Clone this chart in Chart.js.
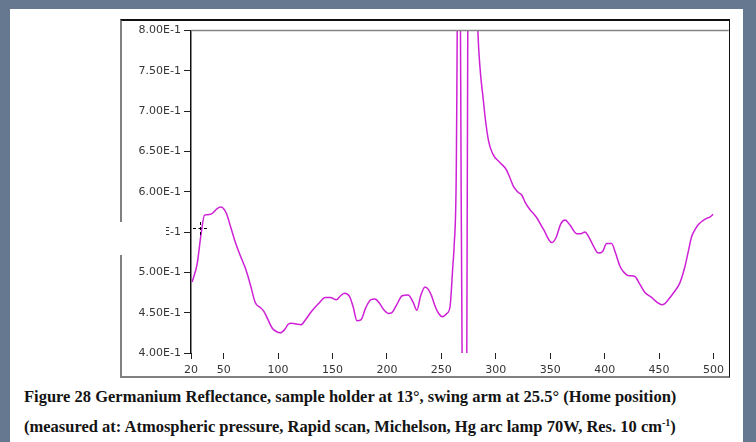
<!DOCTYPE html>
<html>
<head>
<meta charset="utf-8">
<script src="https://cdn.jsdelivr.net/npm/chart.js@4.4.1/dist/chart.umd.min.js"></script>
<style>
  body { margin: 0; width: 756px; height: 442px; background: #667790; position: relative; overflow: hidden; }
  #panel { position: absolute; left: 10px; top: 9px; width: 733px; height: 433px; background: #fff; }
  #frame { position: absolute; left: 120px; top: 19px; width: 607px; height: 355px;
           border-top: 2px solid #111; border-left: 2px solid #808080; border-bottom: 2px solid #808080; border-right: 1.5px solid #111; }
  #frame canvas { position: absolute; left: 0; top: 0; }
  .cap { position: absolute; left: 24px; font-family: "Liberation Serif", serif; font-weight: bold; font-size: 16.5px; color: #141414; line-height: 30px; white-space: nowrap; }
  .cap sup { font-size: 10px; line-height: 0; }
  #cover { position: absolute; left: 118px; top: 222px; width: 48px; height: 33px; background: #fff; }
  .dh { position: absolute; height: 0; border-top: 1px dashed #000; }
  .dv { position: absolute; width: 0; border-left: 1.5px dashed #000; }
</style>
</head>
<body>
<div id="panel"></div>
<div id="frame"><canvas id="grafica" width="607" height="355"></canvas></div>
<div id="cover"></div>
<div class="dh" style="left:193px; top:228px; width:14px;"></div>
<div class="dv" style="left:200px; top:222px; height:13px;"></div>
<div class="cap" style="top:382px;">Figure 28 Germanium Reflectance, sample holder at 13°, swing arm at 25.5° (Home position)</div>
<div class="cap" style="top:412px;">(measured at: Atmospheric pressure, Rapid scan, Michelson, Hg arc lamp 70W, Res. 10 cm<sup>-1</sup>)</div>
<script>
// numero de onda (cm-1) y reflectancia
const numeroOnda = [
  21, 25.7, 29, 32.4, 37.9, 41, 44, 47.4, 50, 52.6, 56.5, 60.8, 65.5, 70, 74.5, 79.2, 83, 86.8, 90.5, 94.5,
  98, 102, 106, 109.5, 112.5, 117, 121, 125, 131, 137, 143.4, 148, 153.5, 157.5, 161, 165.7, 169, 172.5, 176, 180.5,
  185, 189, 193, 197.5, 201.5, 204.5, 209, 214, 219.5, 224, 227.5, 231, 235, 238, 241, 244, 247.5, 251, 255, 258,
  260.5, 261.7, 263.6, 266.3, 268.2, 272, 273.8, 275.5, 283.5, 288.6, 293.2, 297.2, 304, 309.4, 312.5, 316.1, 320, 323.8, 327, 330.8,
  337, 344, 351.4, 355.3, 359.6, 363.6, 368, 374.3, 378, 381.9, 385, 390, 394.1, 398.2, 401.8, 406.4, 410, 414, 417.1, 421.7,
  427.8, 432, 437, 443.1, 448, 452.3, 455, 458.4, 464, 469.1, 473.7, 477, 479.8, 483, 485.9, 490, 493.6, 497, 499.6
];
const reflectancia = [
  0.488, 0.511, 0.545, 0.571, 0.572, 0.575, 0.579, 0.581, 0.579, 0.573, 0.556, 0.537, 0.520, 0.505, 0.485, 0.462, 0.457, 0.452, 0.442, 0.431,
  0.427, 0.425, 0.429, 0.436, 0.437, 0.436, 0.435, 0.441, 0.452, 0.461, 0.469, 0.469, 0.466, 0.471, 0.474, 0.470, 0.457, 0.440, 0.441, 0.456,
  0.466, 0.467, 0.462, 0.453, 0.449, 0.450, 0.460, 0.471, 0.472, 0.463, 0.453, 0.471, 0.482, 0.479, 0.471, 0.459, 0.449, 0.445, 0.449, 0.458,
  0.507, 0.532, 0.614, 1.10, 0.60, -0.10, 0.60, 1.20, 0.80, 0.713, 0.664, 0.647, 0.636, 0.628, 0.619, 0.607, 0.600, 0.596, 0.587, 0.579,
  0.569, 0.553, 0.537, 0.543, 0.560, 0.565, 0.559, 0.548, 0.548, 0.550, 0.545, 0.532, 0.524, 0.526, 0.536, 0.536, 0.524, 0.508, 0.501, 0.496,
  0.495, 0.486, 0.475, 0.469, 0.463, 0.460, 0.461, 0.466, 0.476, 0.487, 0.507, 0.527, 0.544, 0.553, 0.559, 0.564, 0.567, 0.569, 0.572
];
const ticksX = [20, 50, 100, 150, 200, 250, 300, 350, 400, 450, 500];
const ticksY = [0.40, 0.45, 0.50, 0.55, 0.60, 0.65, 0.70, 0.75, 0.80];

const puntos = numeroOnda.map((x, i) => ({ x: x, y: reflectancia[i] }));

const lineaSuperior = {
  id: "lineaSuperior",
  afterDraw(chart) {
    const { ctx, chartArea } = chart;
    ctx.save();
    ctx.strokeStyle = "#858585";
    ctx.lineWidth = 1.5;
    ctx.beginPath();
    ctx.moveTo(chartArea.left, chartArea.top);
    ctx.lineTo(chartArea.right, chartArea.top);
    ctx.stroke();
    ctx.restore();
  }
};

Chart.defaults.font.family = "DejaVu Sans";
Chart.defaults.font.size = 11;
Chart.defaults.color = "#363636";

new Chart("grafica", {
  type: "line",
  data: {
    datasets: [{
      data: puntos,
      borderColor: "rgb(206,32,214)",
      borderWidth: 1.5,
      pointRadius: 0,
      cubicInterpolationMode: "monotone",
      clip: 0
    }]
  },
  options: {
    responsive: false,
    animation: false,
    devicePixelRatio: 1,
    layout: { padding: { top: 9, right: 0, left: 0, bottom: 0 } },
    plugins: { legend: { display: false }, tooltip: { enabled: false } },
    scales: {
      x: {
        type: "linear",
        min: 20,
        max: 514,
        afterBuildTicks: (s) => { s.ticks = ticksX.map(v => ({ value: v })); },
        afterFit: (s) => { s.height = 23; },
        border: { display: false },
        grid: { drawOnChartArea: false, tickLength: 6, color: "#222", lineWidth: 1 },
        ticks: { padding: 5, maxRotation: 0, autoSkip: false }
      },
      y: {
        min: 0.4,
        max: 0.8,
        afterBuildTicks: (s) => { s.ticks = ticksY.map(v => ({ value: v })); },
        afterFit: (s) => { s.width = 69; },
        border: { display: true, color: "#111", width: 1.5 },
        grid: { drawOnChartArea: false, tickLength: 7, color: "#222", lineWidth: 1 },
        ticks: {
          padding: 3,
          callback: (v) => Number(v).toExponential(2).replace("e", "E")
        }
      }
    }
  },
  plugins: [lineaSuperior]
});
</script>
</body>
</html>
